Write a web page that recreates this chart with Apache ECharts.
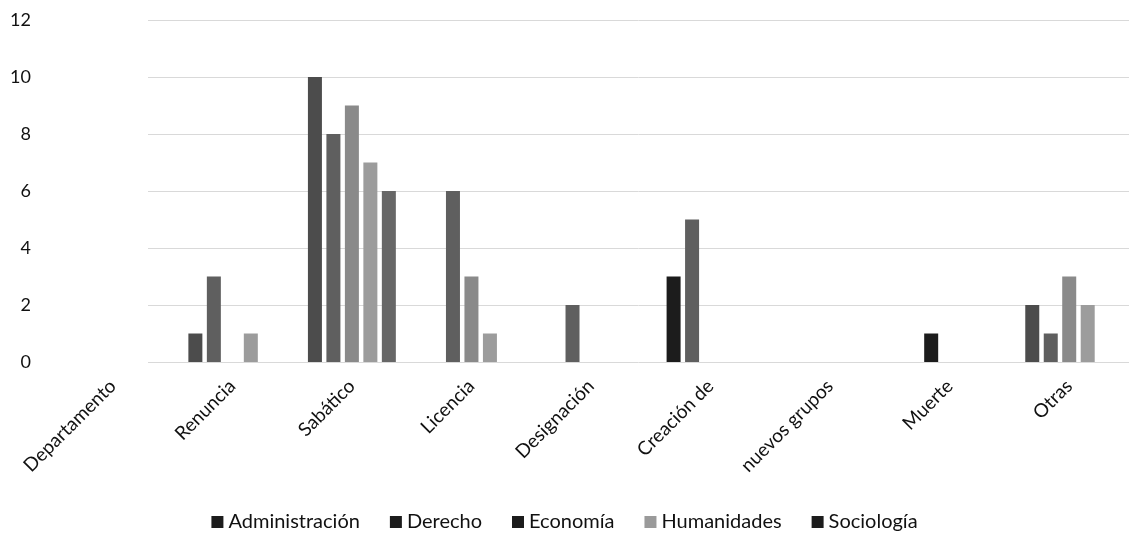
<!DOCTYPE html>
<html><head><meta charset="utf-8">
<script src="https://cdn.jsdelivr.net/npm/echarts@6/dist/echarts.min.js"></script>
<style>html,body{margin:0;padding:0;background:#fff}#c{width:1129px;height:537px}</style>
</head><body><div id="c"></div>
<script>
const categories = ["Departamento","Renuncia","Sabático","Licencia","Designación","Creación de","nuevos grupos","Muerte","Otras"];
const administracion = [0,1,10,0,0,3,0,0,2];
const derecho        = [0,3,8,6,2,5,0,1,1];
const economia       = [0,0,9,3,0,0,0,0,3];
const humanidades    = [0,1,7,1,0,0,0,0,2];
const sociologia     = [0,0,6,0,0,0,0,0,0];
const yTicks = [0,2,4,6,8,10,12];

const FONT = 'Lato, "Open Sans", sans-serif';
const chart = echarts.init(document.getElementById('c'));
function s(name, data, color, darkIdx){
  return {
    name, type:'bar', xAxisIndex:0, yAxisIndex:0, data: data.map((v,i)=> darkIdx && darkIdx.includes(i) ? {value:v,itemStyle:{color:'#1c1c1c'}} : v),
    barWidth:14, barGap:'32%', itemStyle:{color}, animation:false
  };
}
chart.setOption({
  animation:false,
  textStyle:{fontFamily:FONT},
  grid:[
    {left:53, top:20, width:1085, bottom:175},
    {left:148, top:20, right:0, bottom:175}
  ],
  xAxis:[
    {type:'category', gridIndex:0, data:categories, axisLine:{show:false}, axisTick:{show:false},
     axisLabel:{rotate:45, margin:21, fontSize:19, color:'#111', fontFamily:FONT, interval:0}},
    {type:'value', gridIndex:1, show:false, min:0, max:1}
  ],
  yAxis:[
    {type:'value', gridIndex:0, min:yTicks[0], max:yTicks[yTicks.length-1], interval:2, splitLine:{show:false},
     axisLine:{show:false}, axisTick:{show:false},
     axisLabel:{margin:22, fontSize:18, color:'#111', fontFamily:FONT}},
    {type:'value', gridIndex:1, min:yTicks[0], max:yTicks[yTicks.length-1], interval:2,
     axisLine:{show:false}, axisTick:{show:false}, axisLabel:{show:false},
     splitLine:{show:true, lineStyle:{color:'#d9d9d9', width:1}}}
  ],
  legend:{
    bottom:0, left:'center', itemWidth:12, itemHeight:12, itemGap:30, icon:'rect',
    textStyle:{fontSize:20, color:'#111', fontFamily:FONT},
    data:[
      {name:'Administración', itemStyle:{color:'#1c1c1c'}},
      {name:'Derecho', itemStyle:{color:'#1c1c1c'}},
      {name:'Economía', itemStyle:{color:'#1c1c1c'}},
      {name:'Humanidades', itemStyle:{color:'#9a9a9a'}},
      {name:'Sociología', itemStyle:{color:'#1c1c1c'}}
    ]
  },
  series:[
    s('Administración', administracion, '#4c4c4c', [5]),
    s('Derecho', derecho, '#5f5f5f', [7]),
    s('Economía', economia, '#8a8a8a'),
    s('Humanidades', humanidades, '#9c9c9c'),
    s('Sociología', sociologia, '#676767')
  ]
});
</script></body></html>
